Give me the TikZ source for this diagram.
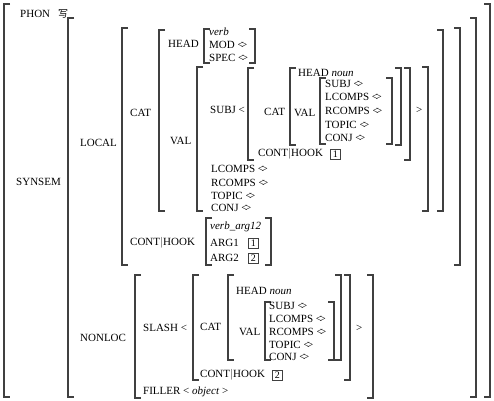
\documentclass[tikz,border=0pt]{standalone}
\usepackage{fontspec}
\setmainfont{Liberation Serif}
\newfontfamily\cjk{Noto Sans CJK SC}
\usepackage{tikz}
\usetikzlibrary{positioning}
\definecolor{brkGray}{RGB}{64,64,64}
\newcommand{\emp}{{\fontsize{11}{13}\selectfont\textless\kern-2.6pt\textgreater}}
\newcommand{\avmL}[3]{\draw[brk] (#1+6,#2) -- (#1,#2) -- (#1,#3) -- (#1+6,#3);}
\newcommand{\avmR}[3]{\draw[brk] (#1-6,#2) -- (#1,#2) -- (#1,#3) -- (#1-6,#3);}

\begin{document}
\begin{tikzpicture}[x=1pt, y=-1pt]
  \tikzset{brk/.style={draw=brkGray, line width=1.1pt}}
  \tikzset{tag/.style={draw=brkGray, line width=0.6pt, inner sep=1.5pt, minimum size=10pt, font=\fontsize{10}{12}\selectfont}}
  \tikzstyle{every node}=[anchor=west, inner sep=0pt, font=\fontsize{11}{13}\selectfont]

  \useasboundingbox (0,0) rectangle (494,400);

  % outer matrix
  \avmL{4}{4}{397}
  \avmR{490}{4}{397}
  \node (phon) at (20,14) {PHON};
  \node (phonval) at (58,14) {\cjk\fontsize{10}{12}\selectfont 写};

  % SYNSEM
  \node (synsem) at (16,182) {SYNSEM};
  \avmL{68}{18}{397}
  \avmR{476}{18}{397}

  % LOCAL
  \node (local) at (80,143) {LOCAL};
  \avmL{122}{28}{265}
  \avmR{460}{28}{265}
  \node (cat) at (130,113) {CAT};
  \avmL{159}{30}{211}
  \avmR{443}{30}{211}
  \node (head) at (168,44) {HEAD};
  \avmL{204}{29}{63}
  \avmR{255}{29}{63}
  \node (verb) at (209,32) {\textit{verb}};
  \node (mod) at (209,45) {MOD \emp};
  \node (spec) at (209,58) {SPEC \emp};
  \node (val) at (170,141) {VAL};
  \avmL{197}{67}{211}
  \avmR{428}{67}{211}
  \node (subj) at (210,110) {SUBJ \textless};
  \avmL{248}{68}{160}
  \avmR{410}{68}{160}
  \node (subjcat) at (264,112) {CAT};
  \avmL{290}{68}{145}
  \avmR{401}{68}{145}
  \node (subjhead) at (298,73) {HEAD \textit{noun}};
  \node (subjval) at (294,113) {VAL};
  \avmL{320}{78}{144}
  \avmR{392}{78}{144}
  \node (s1) at (325,84) {SUBJ \emp};
  \node (s2) at (325,97) {LCOMPS \emp};
  \node (s3) at (325,111) {RCOMPS \emp};
  \node (s4) at (325,125) {TOPIC \emp};
  \node (s5) at (325,138) {CONJ \emp};
  \node (subjend) at (416,110) {\textgreater};
  \node (subjcont) at (258,154) {CONT$|$HOOK};
  \node[tag, right=7pt of subjcont] (tag1a) {1};
  \node (lcomps) at (211,169) {LCOMPS \emp};
  \node (rcomps) at (211,183) {RCOMPS \emp};
  \node (topic) at (211,196) {TOPIC \emp};
  \node (conj) at (211,208) {CONJ \emp};
  \node (cont) at (130,243) {CONT$|$HOOK};
  \avmL{206}{218}{265}
  \avmR{271}{218}{265}
  \node (rel) at (210,227) {\textit{verb\_arg12}};
  \node (arg1) at (210,243) {ARG1};
  \node[tag, right=9pt of arg1] (tag1b) {1};
  \node (arg2) at (210,258) {ARG2};
  \node[tag, right=9pt of arg2] (tag2a) {2};

  % NONLOC
  \node (nonloc) at (80,338) {NONLOC};
  \avmL{135}{275}{398}
  \avmR{373}{275}{398}
  \node (slash) at (143,328) {SLASH \textless};
  \avmL{193}{275}{380}
  \avmR{350}{275}{380}
  \node (slcat) at (200,327) {CAT};
  \avmL{228}{275}{360}
  \avmR{341}{275}{360}
  \node (slhead) at (236,291) {HEAD \textit{noun}};
  \node (slval) at (239,332) {VAL};
  \avmL{265}{302}{360}
  \avmR{334}{302}{360}
  \node (n1) at (269,306) {SUBJ \emp};
  \node (n2) at (269,319) {LCOMPS \emp};
  \node (n3) at (269,332) {RCOMPS \emp};
  \node (n4) at (269,345) {TOPIC \emp};
  \node (n5) at (269,357) {CONJ \emp};
  \node (slend) at (356,328) {\textgreater};
  \node (slcont) at (200,375) {CONT$|$HOOK};
  \node[tag, right=7pt of slcont] (tag2b) {2};
  \node (filler) at (143,392) {FILLER \textless\ \textit{object} \textgreater};
\end{tikzpicture}
\end{document}
